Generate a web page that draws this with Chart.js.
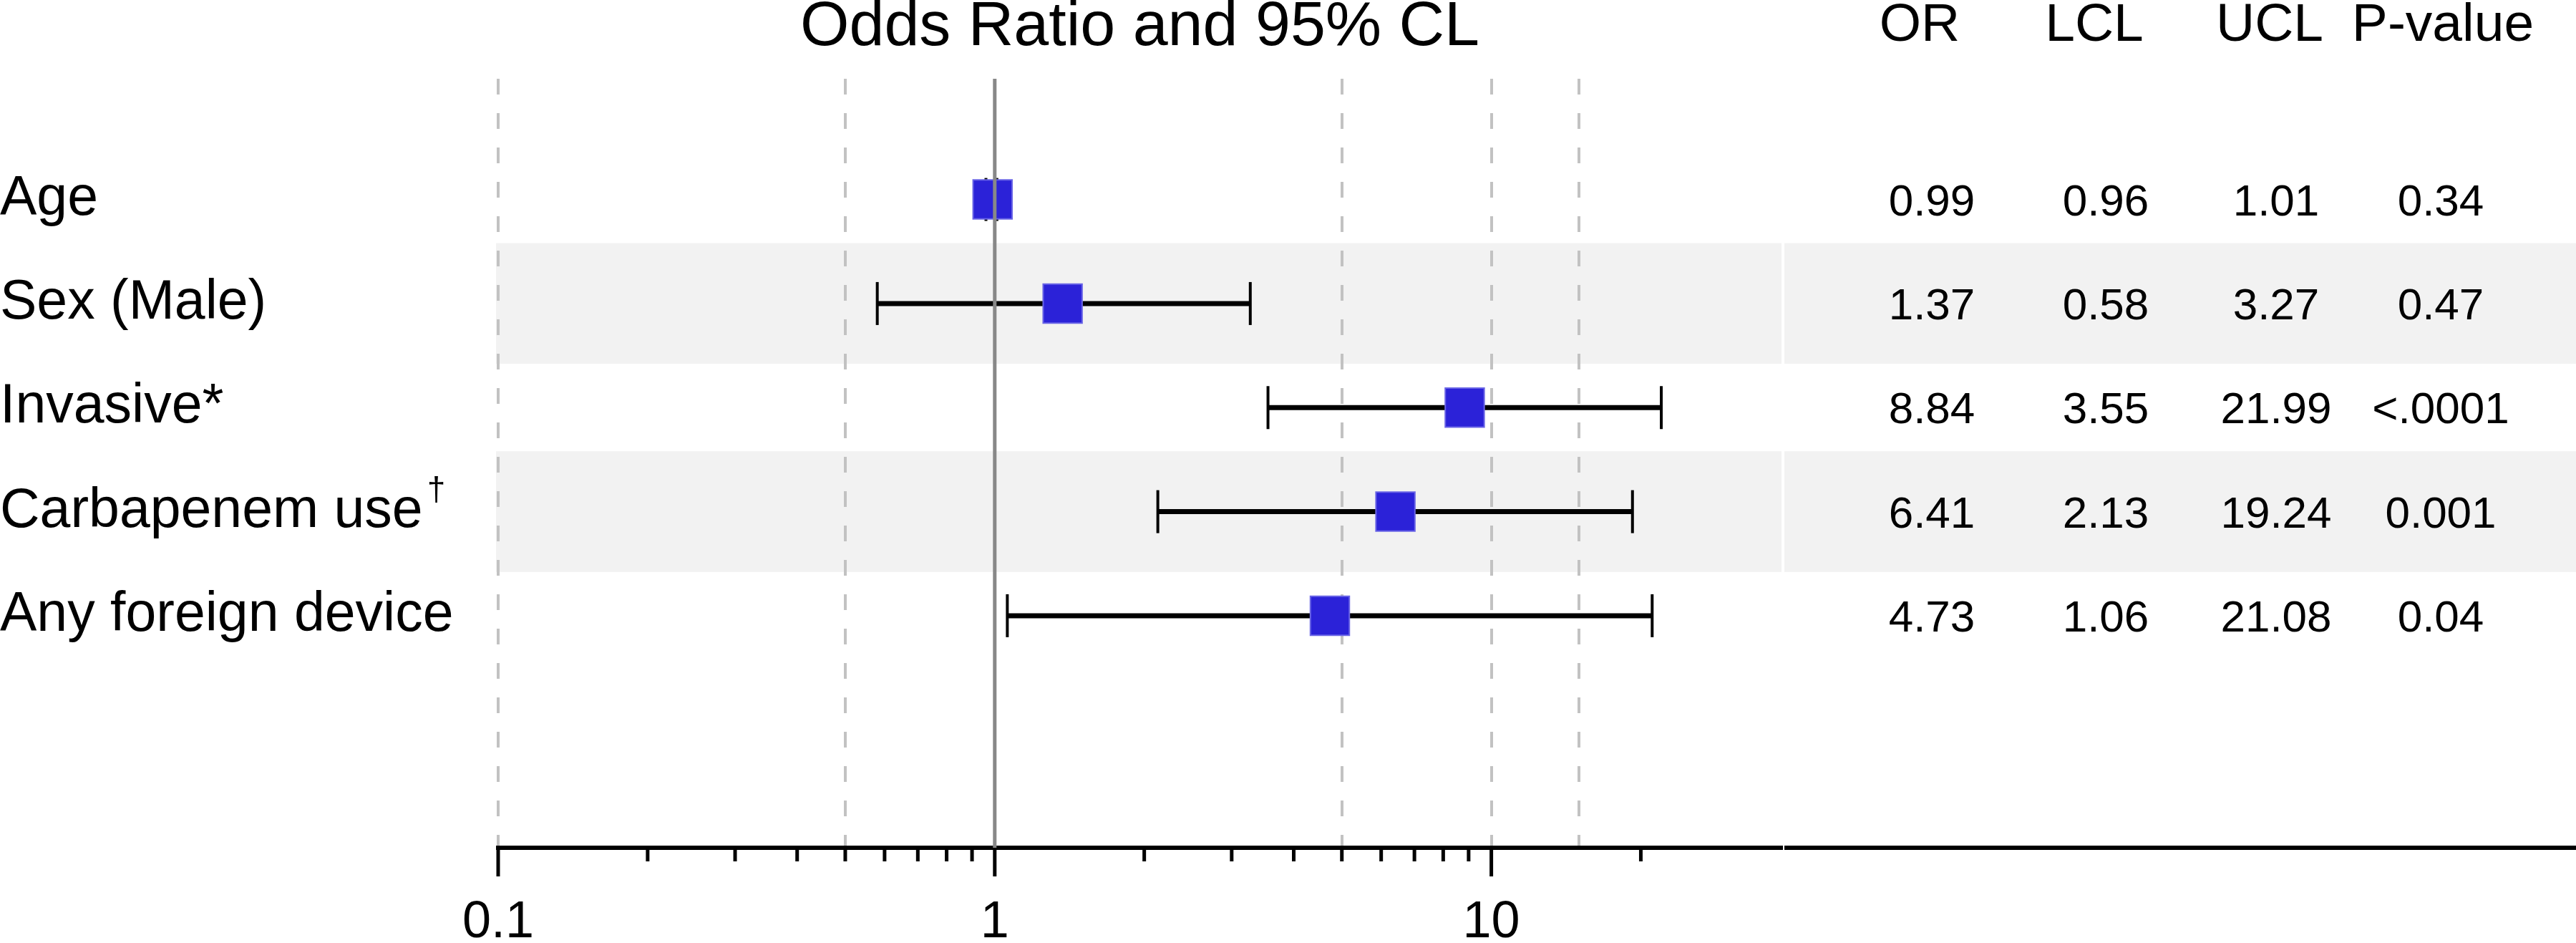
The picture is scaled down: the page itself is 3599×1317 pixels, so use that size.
<!DOCTYPE html>
<html>
<head>
<meta charset="utf-8">
<script src="https://cdn.jsdelivr.net/npm/chart.js@4.4.0/dist/chart.umd.min.js"></script>
<style>
  html, body { margin: 0; padding: 0; background: #ffffff; }
  #wrap { width: 3599px; height: 1317px; }
</style>
</head>
<body>
<div id="wrap"><canvas id="forestChart"></canvas></div>
<script>
// data
const rowLabels = ['Age', 'Sex (Male)', 'Invasive*', 'Carbapenem use', 'Any foreign device'];
const rowMarks = ['', '', '', '\u2020', ''];
const oddsRatio = [0.99, 1.37, 8.84, 6.41, 4.73];
const lowerCL = [0.96, 0.58, 3.55, 2.13, 1.06];
const upperCL = [1.01, 3.27, 21.99, 19.24, 21.08];
const pValues = ['0.34', '0.47', '<.0001', '0.001', '0.04'];
const columnHeaders = ['OR', 'LCL', 'UCL', 'P-value'];
const majorTicks = [0.1, 1, 10];
const minorTicks = [0.2, 0.3, 0.4, 0.5, 0.6, 0.7, 0.8, 0.9, 2, 3, 4, 5, 6, 7, 8, 9, 20];
const dashedLines = [0.1, 0.5, 5, 10, 15];
const refValue = 1;
const xMin = 0.1;
const xMax = 38.4;
const yMin = -1.16;
const yMax = 6.23;

const textColor = '#000000';
const squareBlue = '#2b22d8';
const squareEdge = '#6a65e6';
const stripeGray = '#f2f2f2';
const dashGray = '#c2c2c2';
const refGray = '#888888';
const fontName = '"Liberation Sans", Arial, Helvetica, sans-serif';

const xTickValues = [...new Set([...majorTicks, ...minorTicks, ...dashedLines])].sort((a, b) => a - b);

// header and value column centres (px)
const headerX = [2682, 2926, 3171, 3413];
const valueX = [2699, 2942, 3180, 3410];

const forestExtras = {
    id: 'forestExtras',
    beforeDraw(chart) {
        const { ctx, chartArea, scales } = chart;
        const y = scales.y;
        ctx.save();
        ctx.fillStyle = stripeGray;
        rowLabels.forEach((_, i) => {
            if (i % 2 !== 1) return;
            const top = y.getPixelForValue(i - 0.58);
            const bot = y.getPixelForValue(i + 0.58);
            ctx.fillRect(chartArea.left - 3, top, chartArea.right - chartArea.left + 3, bot - top);
            ctx.fillRect(chartArea.right + 4, top, chart.width - chartArea.right - 4, bot - top);
        });
        ctx.restore();
    },
    afterDraw(chart) {
        const { ctx, chartArea, scales } = chart;
        const x = scales.x;
        const y = scales.y;
        const axisY = chartArea.bottom;
        ctx.save();

        // tick marks under the axis line
        ctx.strokeStyle = textColor;
        ctx.lineWidth = 5;
        majorTicks.concat(minorTicks).forEach(v => {
            const px = x.getPixelForValue(v);
            const len = majorTicks.includes(v) ? 40 : 19;
            ctx.beginPath();
            ctx.moveTo(px, axisY);
            ctx.lineTo(px, axisY + len);
            ctx.stroke();
        });

        // axis line under the table panel
        ctx.lineWidth = 6;
        ctx.beginPath();
        ctx.moveTo(chartArea.right + 4, axisY);
        ctx.lineTo(chart.width, axisY);
        ctx.stroke();

        ctx.fillStyle = textColor;
        ctx.textAlign = 'center';
        ctx.textBaseline = 'alphabetic';

        // title over the plot
        ctx.font = '88px ' + fontName;
        ctx.fillText('Odds Ratio and 95% CL', (chartArea.left + chartArea.right) / 2, 63);

        // table headers
        ctx.font = '75px ' + fontName;
        columnHeaders.forEach((h, j) => ctx.fillText(h, headerX[j], 57));

        // table values
        ctx.font = '62px ' + fontName;
        rowLabels.forEach((_, i) => {
            const py = y.getPixelForValue(i) + 22;
            const cells = [oddsRatio[i].toFixed(2), lowerCL[i].toFixed(2), upperCL[i].toFixed(2), pValues[i]];
            cells.forEach((c, j) => ctx.fillText(c, valueX[j], py));
        });

        // footnote marks after row labels
        ctx.textAlign = 'left';
        rowMarks.forEach((m, i) => {
            if (!m) return;
            ctx.font = '77px ' + fontName;
            const w = ctx.measureText(rowLabels[i]).width;
            ctx.font = '46px ' + fontName;
            ctx.fillText(m, y.left + w + 6, y.getPixelForValue(i) - 16);
        });
        ctx.restore();
    }
};

const forestCtx = document.getElementById('forestChart').getContext('2d');
new Chart(forestCtx, {
    type: 'scatter',
    data: {
        datasets: [{
            // reference line at OR = 1, drawn on top
            data: [{ x: refValue, y: yMin }, { x: refValue, y: yMax }],
            showLine: true,
            borderColor: refGray,
            borderWidth: 5,
            pointRadius: 0
        }, {
            data: oddsRatio.map((v, i) => ({ x: v, y: i })),
            pointStyle: 'rect',
            pointRadius: 38.5,
            pointBackgroundColor: squareBlue,
            pointBorderColor: squareEdge,
            pointBorderWidth: 2
        }].concat(rowLabels.map((_, i) => ({
            data: [{ x: lowerCL[i], y: i }, { x: upperCL[i], y: i }],
            showLine: true,
            borderColor: textColor,
            borderWidth: 7,
            pointStyle: 'line',
            pointRotation: 90,
            pointRadius: 30,
            pointBorderWidth: 4,
            pointBorderColor: textColor
        })))
    },
    options: {
        responsive: true,
        maintainAspectRatio: false,
        animation: false,
        events: [],
        layout: { padding: { top: 110, right: 1110, left: 0, bottom: 0 } },
        plugins: { legend: { display: false }, tooltip: { enabled: false } },
        scales: {
            x: {
                type: 'logarithmic',
                min: xMin,
                max: xMax,
                afterBuildTicks: axis => { axis.ticks = xTickValues.map(v => ({ value: v })); },
                afterFit: axis => { axis.height = 133; },
                ticks: {
                    autoSkip: false,
                    maxRotation: 0,
                    padding: 62,
                    color: textColor,
                    font: { family: fontName, size: 72 },
                    callback: v => (majorTicks.includes(v) ? String(v) : '')
                },
                grid: {
                    drawTicks: false,
                    lineWidth: 4,
                    color: c => (c.tick && dashedLines.includes(c.tick.value) ? dashGray : 'rgba(0,0,0,0)')
                },
                border: {
                    display: true,
                    color: textColor,
                    width: 6,
                    dash: c => (c.tick ? [22, 26] : [])
                }
            },
            y: {
                type: 'linear',
                reverse: true,
                min: yMin,
                max: yMax,
                afterBuildTicks: axis => { axis.ticks = rowLabels.map((_, i) => ({ value: i })); },
                afterFit: axis => { axis.width = 696; },
                ticks: {
                    crossAlign: 'far',
                    padding: 0,
                    color: textColor,
                    font: { family: fontName, size: 77 },
                    callback: v => rowLabels[v]
                },
                grid: { display: false },
                border: { display: false }
            }
        }
    },
    plugins: [forestExtras]
});
</script>
</body>
</html>
